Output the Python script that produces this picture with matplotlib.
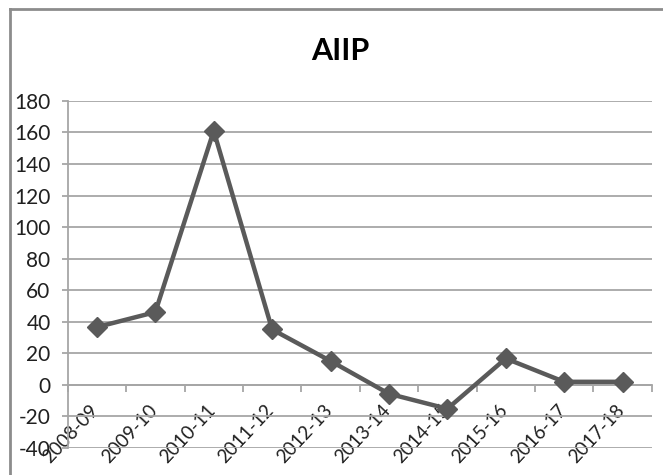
import numpy as np
import matplotlib.pyplot as plt
import matplotlib.transforms as mtransforms
from matplotlib.lines import Line2D
from matplotlib.ticker import FixedLocator

years = ['2008-09', '2009-10', '2010-11', '2011-12', '2012-13',
         '2013-14', '2014-15', '2015-16', '2016-17', '2017-18']
aiip = [36.5, 46, 161, 35, 15, -5.8, -15.3, 16.6, 1.8, 1.8]
yticks = [-40, -20, 0, 20, 40, 60, 80, 100, 120, 140, 160, 180]

plt.rcParams['font.family'] = ['Lato', 'DejaVu Sans']

fig = plt.figure(figsize=(6.63, 4.75), dpi=100)
ax = fig.add_axes([0.1021, 0.0575, 0.881, 0.73])

# spine position first: it resets the ticks
for s in ['top', 'right']:
    ax.spines[s].set_visible(False)
ax.spines['bottom'].set_position(('data', 0))
ax.spines['bottom'].set_color('#a6a6a6')
ax.spines['bottom'].set_linewidth(1.3)
ax.spines['left'].set_color('#a6a6a6')
ax.spines['left'].set_linewidth(1.3)

x = np.arange(len(years))
ax.plot(x, aiip, color='#5a5a5a', lw=3.2, marker='D', ms=10,
        markerfacecolor='#5a5a5a', markeredgecolor='#5a5a5a', zorder=3)

ax.set_xlim(-0.5, len(years) - 0.5)
ax.set_ylim(-40, 180)
ax.set_yticks(yticks)
ax.set_yticklabels([str(v) for v in yticks], fontsize=15, color='#202020')
ax.yaxis.grid(True, color='#a6a6a6', lw=1.3)
ax.set_axisbelow(True)

# category labels end at the category centre, tick marks at boundaries
ax.set_xticks(x)
ax.set_xticklabels(years, fontsize=13.5, color='#202020',
                   rotation=47, ha='right', va='top')
ax.xaxis.set_minor_locator(FixedLocator(np.arange(-0.5, len(years), 1.0)))
ax.tick_params(axis='x', which='major', length=0, pad=12)
ax.tick_params(axis='x', which='minor', length=5, color='#a6a6a6', width=1.3)
ax.tick_params(axis='y', length=4.3, color='#a6a6a6', width=1.3, pad=8)
shift = mtransforms.ScaledTranslation(0.05, 0, fig.dpi_scale_trans)
for lbl in ax.get_xticklabels():
    lbl.set_transform(lbl.get_transform() + shift)

fig.text(0.513, 0.893, 'AIIP', fontsize=22, fontweight='bold',
         ha='center', va='center', color='black')

# chart border (left and top edges)
fig.add_artist(Line2D([0.0158, 0.0158], [0.0, 0.982], color='#8c8c8c', lw=2))
fig.add_artist(Line2D([0.0158, 1.0], [0.982, 0.982], color='#8c8c8c', lw=2))

fig.savefig('out.png', dpi=100)
